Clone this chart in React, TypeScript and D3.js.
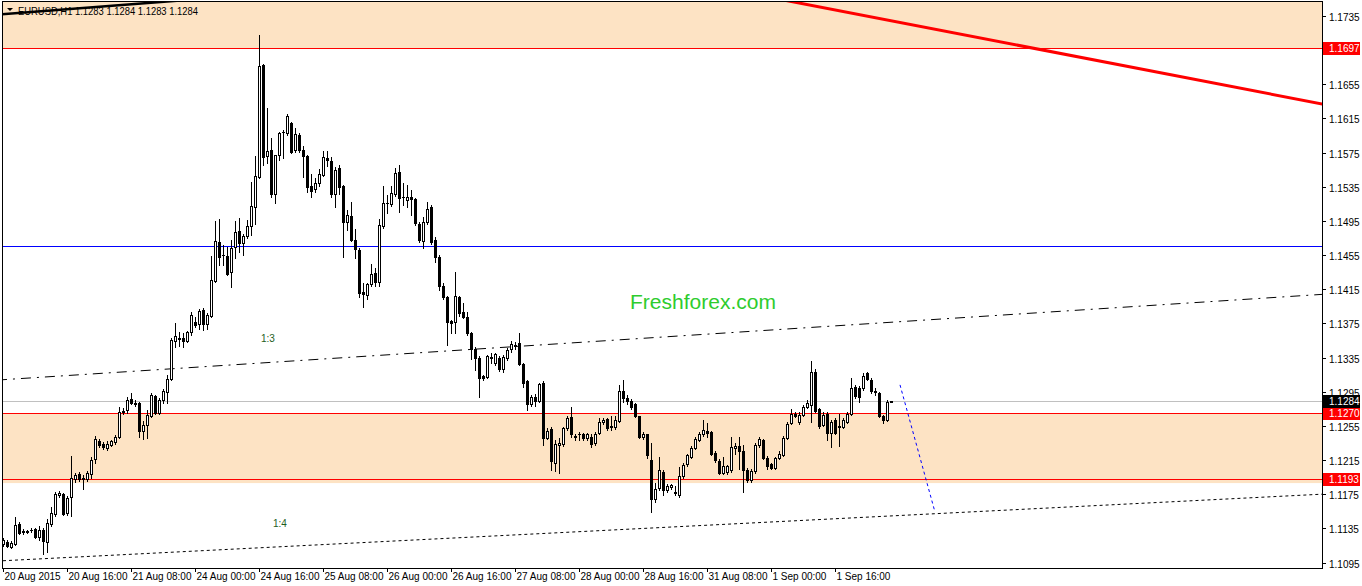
import React from "react";
import * as d3 from "d3";

// ---------- data (EURUSD H1) ----------
const opens = [
1.1117,1.1119,1.1113,1.1117,1.1140,1.1132,1.1131,1.1133,1.1134,1.1125,
1.1133,1.1119,1.1140,1.1152,1.1174,1.1175,1.1153,1.1172,1.1193,1.1199,
1.1193,1.1193,1.1199,1.1216,1.1237,1.1234,1.1229,1.1233,1.1236,1.1242,
1.1271,1.1274,1.1286,1.1282,1.1282,1.1249,1.1256,1.1266,1.1290,1.1270,
1.1285,1.1295,1.1310,1.1354,1.1358,1.1358,1.1354,1.1365,1.1377,1.1374,
1.1391,1.1374,1.1384,1.1425,1.1470,1.1455,1.1454,1.1435,1.1464,1.1483,
1.1469,1.1477,1.1489,1.1511,1.1547,1.1678,1.1571,1.1578,1.1527,1.1572,
1.1599,1.1598,1.1610,1.1578,1.1596,1.1578,1.1571,1.1536,1.1532,1.1539,
1.1549,1.1569,1.1565,1.1527,1.1557,1.1536,1.1494,1.1501,1.1473,1.1461,
1.1412,1.1408,1.1421,1.1434,1.1423,1.1489,1.1516,1.1515,1.1526,1.1552,
1.1523,1.1520,1.1523,1.1521,1.1491,1.1471,1.1494,1.1511,1.1473,1.1453,
1.1419,1.1406,1.1378,1.1377,1.1406,1.1388,1.1383,1.1364,1.1345,1.1334,
1.1313,1.1312,1.1336,1.1329,1.1334,1.1322,1.1334,1.1345,1.1350,1.1352,
1.1327,1.1308,1.1281,1.1289,1.1284,1.1305,1.1241,1.1251,1.1212,1.1233,
1.1234,1.1253,1.1265,1.1243,1.1246,1.1246,1.1241,1.1242,1.1235,1.1247,
1.1259,1.1263,1.1255,1.1254,1.1261,1.1296,1.1288,1.1284,1.1281,1.1266,
1.1242,1.1245,1.1215,1.1169,1.1182,1.1201,1.1180,1.1184,1.1178,1.1174,
1.1196,1.1210,1.1219,1.1229,1.1239,1.1246,1.1249,1.1248,1.1223,1.1214,
1.1200,1.1201,1.1203,1.1229,1.1231,1.1225,1.1203,1.1192,1.1202,1.1233,
1.1239,1.1217,1.1210,1.1206,1.1217,1.1221,1.1241,1.1258,1.1269,1.1260,
1.1268,1.1277,1.1280,1.1318,1.1275,1.1256,1.1269,1.1247,1.1262,1.1254,
1.1254,1.1260,1.1269,1.1300,1.1299,1.1299,1.1317,1.1309,1.1296,1.1294,
1.1267,1.1262,1.1283];

const highs = [
1.1124,1.1121,1.1120,1.1148,1.1142,1.1134,1.1133,1.1135,1.1135,1.1138,
1.1135,1.1146,1.1160,1.1178,1.1179,1.1176,1.1173,1.1220,1.1200,1.1201,
1.1197,1.1202,1.1219,1.1243,1.1240,1.1236,1.1237,1.1239,1.1244,1.1277,
1.1276,1.1289,1.1293,1.1285,1.1283,1.1261,1.1274,1.1293,1.1291,1.1288,
1.1298,1.1314,1.1358,1.1375,1.1365,1.1364,1.1366,1.1388,1.1383,1.1392,
1.1393,1.1387,1.1454,1.1495,1.1497,1.1467,1.1464,1.1473,1.1495,1.1498,
1.1480,1.1496,1.1541,1.1571,1.1713,1.1679,1.1627,1.1592,1.1572,1.1599,
1.1601,1.1620,1.1611,1.1604,1.1598,1.1583,1.1572,1.1550,1.1545,1.1556,
1.1577,1.1577,1.1570,1.1558,1.1560,1.1537,1.1508,1.1517,1.1486,1.1463,
1.1422,1.1422,1.1445,1.1440,1.1497,1.1536,1.1525,1.1536,1.1557,1.1560,
1.1539,1.1537,1.1531,1.1522,1.1494,1.1500,1.1517,1.1514,1.1476,1.1455,
1.1422,1.1407,1.1379,1.1435,1.1407,1.1399,1.1388,1.1365,1.1347,1.1337,
1.1315,1.1338,1.1340,1.1340,1.1337,1.1338,1.1346,1.1354,1.1353,1.1364,
1.1329,1.1309,1.1291,1.1292,1.1305,1.1307,1.1253,1.1254,1.1239,1.1241,
1.1254,1.1266,1.1277,1.1246,1.1248,1.1247,1.1247,1.1245,1.1248,1.1264,
1.1264,1.1264,1.1267,1.1267,1.1303,1.1309,1.1291,1.1287,1.1282,1.1267,
1.1248,1.1246,1.1235,1.1188,1.1218,1.1203,1.1187,1.1187,1.1185,1.1207,
1.1212,1.1222,1.1231,1.1242,1.1248,1.1262,1.1258,1.1249,1.1225,1.1216,
1.1218,1.1209,1.1242,1.1235,1.1242,1.1233,1.1206,1.1204,1.1235,1.1242,
1.1240,1.1220,1.1212,1.1218,1.1225,1.1243,1.1260,1.1275,1.1271,1.1271,
1.1280,1.1285,1.1331,1.1322,1.1276,1.1271,1.1271,1.1262,1.1264,1.1269,
1.1264,1.1271,1.1311,1.1303,1.1302,1.1317,1.1318,1.1311,1.1299,1.1295,
1.1268,1.1285,1.1284];

const lows = [
1.1114,1.1113,1.1112,1.1116,1.1128,1.1128,1.1130,1.1131,1.1124,1.1121,
1.1105,1.1107,1.1138,1.1149,1.1172,1.1151,1.1151,1.1149,1.1189,1.1190,
1.1181,1.1190,1.1194,1.1212,1.1230,1.1228,1.1227,1.1232,1.1234,1.1241,
1.1269,1.1270,1.1281,1.1278,1.1242,1.1240,1.1241,1.1265,1.1269,1.1269,
1.1282,1.1282,1.1309,1.1347,1.1349,1.1347,1.1353,1.1361,1.1371,1.1368,
1.1367,1.1368,1.1383,1.1423,1.1443,1.1443,1.1432,1.1418,1.1452,1.1459,
1.1455,1.1475,1.1479,1.1491,1.1545,1.1560,1.1563,1.1523,1.1516,1.1566,
1.1569,1.1596,1.1574,1.1576,1.1576,1.1546,1.1529,1.1523,1.1529,1.1536,
1.1548,1.1559,1.1523,1.1511,1.1526,1.1453,1.1484,1.1471,1.1452,1.1406,
1.1394,1.1404,1.1419,1.1419,1.1419,1.1487,1.1504,1.1512,1.1524,1.1505,
1.1514,1.1511,1.1502,1.1490,1.1470,1.1463,1.1491,1.1468,1.1447,1.1414,
1.1404,1.1350,1.1364,1.1364,1.1384,1.1381,1.1361,1.1333,1.1320,1.1289,
1.1309,1.1311,1.1329,1.1326,1.1319,1.1318,1.1332,1.1342,1.1345,1.1326,
1.1301,1.1274,1.1278,1.1278,1.1283,1.1233,1.1240,1.1203,1.1202,1.1200,
1.1231,1.1250,1.1242,1.1239,1.1239,1.1239,1.1239,1.1230,1.1233,1.1246,
1.1257,1.1250,1.1250,1.1251,1.1260,1.1283,1.1281,1.1275,1.1265,1.1241,
1.1240,1.1217,1.1154,1.1166,1.1180,1.1174,1.1177,1.1181,1.1174,1.1172,
1.1194,1.1208,1.1217,1.1228,1.1237,1.1243,1.1242,1.1221,1.1213,1.1199,
1.1199,1.1199,1.1201,1.1222,1.1205,1.1178,1.1189,1.1189,1.1200,1.1230,
1.1216,1.1205,1.1204,1.1205,1.1216,1.1220,1.1240,1.1257,1.1265,1.1257,
1.1267,1.1276,1.1260,1.1271,1.1253,1.1255,1.1239,1.1230,1.1245,1.1231,
1.1253,1.1258,1.1268,1.1288,1.1283,1.1297,1.1309,1.1294,1.1291,1.1265,
1.1258,1.1261,1.1283];

const closes = [
1.1121,1.1114,1.1118,1.1139,1.1130,1.1131,1.1132,1.1133,1.1125,1.1133,
1.1120,1.1141,1.1153,1.1175,1.1176,1.1152,1.1171,1.1194,1.1197,1.1193,
1.1194,1.1200,1.1215,1.1240,1.1233,1.1230,1.1234,1.1237,1.1242,1.1271,
1.1273,1.1285,1.1282,1.1281,1.1249,1.1256,1.1268,1.1291,1.1270,1.1285,
1.1296,1.1310,1.1356,1.1360,1.1357,1.1354,1.1365,1.1385,1.1373,1.1390,
1.1374,1.1385,1.1426,1.1471,1.1453,1.1455,1.1433,1.1463,1.1482,1.1469,
1.1477,1.1489,1.1512,1.1548,1.1676,1.1570,1.1577,1.1526,1.1572,1.1598,
1.1599,1.1618,1.1576,1.1597,1.1578,1.1571,1.1535,1.1530,1.1539,1.1550,
1.1570,1.1566,1.1526,1.1555,1.1535,1.1494,1.1502,1.1473,1.1462,1.1411,
1.1409,1.1421,1.1433,1.1423,1.1490,1.1516,1.1516,1.1528,1.1551,1.1522,
1.1523,1.1523,1.1521,1.1493,1.1473,1.1494,1.1509,1.1470,1.1453,1.1419,
1.1406,1.1377,1.1376,1.1407,1.1387,1.1383,1.1364,1.1345,1.1334,1.1311,
1.1311,1.1337,1.1334,1.1339,1.1322,1.1336,1.1344,1.1351,1.1349,1.1327,
1.1305,1.1281,1.1289,1.1284,1.1304,1.1241,1.1249,1.1214,1.1234,1.1235,
1.1253,1.1264,1.1245,1.1242,1.1246,1.1241,1.1245,1.1234,1.1246,1.1260,
1.1262,1.1253,1.1254,1.1262,1.1296,1.1288,1.1284,1.1277,1.1266,1.1242,
1.1246,1.1221,1.1169,1.1181,1.1203,1.1180,1.1185,1.1186,1.1176,1.1196,
1.1209,1.1221,1.1229,1.1240,1.1246,1.1250,1.1247,1.1222,1.1215,1.1200,
1.1208,1.1208,1.1230,1.1231,1.1225,1.1203,1.1192,1.1202,1.1233,1.1240,
1.1217,1.1208,1.1206,1.1217,1.1222,1.1241,1.1257,1.1269,1.1267,1.1268,
1.1277,1.1282,1.1318,1.1272,1.1255,1.1268,1.1247,1.1260,1.1247,1.1255,
1.1262,1.1269,1.1299,1.1290,1.1289,1.1313,1.1310,1.1296,1.1295,1.1266,
1.1262,1.1283,1.1284];

const timeTickBars = [0, 16, 32, 48, 64, 80, 96, 112, 128, 144, 160, 176, 192, 208];
const timeTickLabels = [
  "20 Aug 2015", "20 Aug 16:00", "21 Aug 08:00", "24 Aug 00:00", "24 Aug 16:00",
  "25 Aug 08:00", "26 Aug 00:00", "26 Aug 16:00", "27 Aug 08:00", "28 Aug 00:00",
  "28 Aug 16:00", "31 Aug 08:00", "1 Sep 00:00", "1 Sep 16:00",
];
const priceTicks = [
  1.1095, 1.1135, 1.1175, 1.1215, 1.1255, 1.1295, 1.1335, 1.1375, 1.1415,
  1.1455, 1.1495, 1.1535, 1.1575, 1.1615, 1.1655, 1.1695, 1.1735,
];

const zones = [
  [1.1697, 1.1800],
  [1.1188, 1.1270],
];
const redLevels = [1.1697, 1.1270, 1.1193];
const blueLevel = 1.1466;
const lastPrice = 1.1284;

// trend lines: [bar, price] pairs
const redTrend = [[199.25, 1.1750], [329.75, 1.1632]];
const blackTrend = [[-0.75, 1.1737], [35.5, 1.1750]];
const dashDotTrend = [[-0.25, 1.1309], [329.75, 1.1409]];
const dottedTrend = [[-0.25, 1.1097], [329.75, 1.1175]];
const blueProjection = [[224.25, 1.1303], [233, 1.1154]];

const ratioLabels = [
  { text: "1:3", bar: 64.5, price: 1.1358 },
  { text: "1:4", bar: 67.5, price: 1.1141 },
];

const header = "EURUSD,H1  1.1283 1.1284 1.1283 1.1284";

// ---------- layout ----------
const W = 1362;
const H = 586;
const P = { left: 2, top: 1, right: 1322, bottom: 568 };
const FONT = "'Liberation Sans', Arial, sans-serif";

export default function App() {
  const x = d3.scaleLinear().domain([0, 330]).range([3, 1323]);
  const y = d3.scaleLinear().domain([1.1095, 1.1735]).range([562.5, 16]);
  const r = (v: number) => Math.round(v);

  const extend = (pts: number[][]) => {
    const [a, b] = pts;
    const slope = (b[1] - a[1]) / (b[0] - a[0]);
    const b0 = x.invert(P.left - 5);
    const b1 = x.invert(P.right + 5);
    return [
      [x(b0), y(a[1] + slope * (b0 - a[0]))],
      [x(b1), y(a[1] + slope * (b1 - a[0]))],
    ];
  };
  const seg = (pts: number[][]) => pts.map(([b, p]) => [x(b), y(p)]);
  const lineGen = d3.line();

  const candles = opens.map((o, i) => {
    const c = closes[i];
    const X = r(x(i));
    const yo = r(y(o));
    const yc = r(y(c));
    const yh = r(y(Math.max(highs[i], o, c)));
    const yl = r(y(Math.min(lows[i], o, c)));
    const top = Math.min(yo, yc);
    const bot = Math.max(yo, yc);
    const bull = c > o;
    return (
      <g key={i}>
        <rect x={X} y={yh} width={1} height={yl - yh + 1} fill="#000" />
        <rect x={X - 1} y={top} width={3} height={bot - top + 1} fill="#000" />
        {bull && bot - top >= 2 ? (
          <rect x={X} y={top + 1} width={1} height={bot - top - 1} fill="#fff" />
        ) : null}
      </g>
    );
  });

  const hline = (p: number) => r(y(p)) + 0.5;

  return (
    <svg
      width={W}
      height={H}
      style={{ position: "fixed", left: 0, top: 0, background: "#fff" }}
      fontFamily={FONT}
    >
      <defs>
        <clipPath id="plotClip">
          <rect x={P.left} y={P.top} width={P.right - P.left} height={P.bottom - P.top} />
        </clipPath>
      </defs>
      <rect x={0} y={0} width={W} height={H} fill="#fff" />

      <g clipPath="url(#plotClip)">
        {zones.map(([lo, hi], k) => (
          <rect
            key={k}
            x={P.left}
            y={y(hi)}
            width={P.right - P.left}
            height={y(lo) - y(hi)}
            fill="#FDE3C4"
          />
        ))}
        <line x1={P.left} x2={P.right} y1={hline(lastPrice)} y2={hline(lastPrice)} stroke="#C0C0C0" strokeWidth={1} />
        <line x1={P.left} x2={P.right} y1={hline(blueLevel)} y2={hline(blueLevel)} stroke="#0000FF" strokeWidth={1} />
        {redLevels.map((p, k) => (
          <line key={k} x1={P.left} x2={P.right} y1={hline(p)} y2={hline(p)} stroke="#FF0000" strokeWidth={1} />
        ))}
        <path d={lineGen(extend(dashDotTrend) as any) || ""} stroke="#000" strokeWidth={1} fill="none" strokeDasharray="10,6,2,6" />
        <path d={lineGen(extend(dottedTrend) as any) || ""} stroke="#000" strokeWidth={1} fill="none" strokeDasharray="3,3" />
        <path d={lineGen(extend(redTrend) as any) || ""} stroke="#FF0000" strokeWidth={3} fill="none" />
        <path d={lineGen(extend(blackTrend) as any) || ""} stroke="#000" strokeWidth={2.5} fill="none" />
        <path d={lineGen(seg(blueProjection) as any) || ""} stroke="#0000FF" strokeWidth={1} fill="none" strokeDasharray="3,3" />

        {candles}

        {ratioLabels.map((l, k) => (
          <text key={k} x={x(l.bar)} y={y(l.price) + 4} fontSize={10} fill="#1E5E1E">
            {l.text}
          </text>
        ))}
        <text x={630} y={309} fontSize={20} fill="#2ECC2E" textLength={146} lengthAdjust="spacingAndGlyphs">
          Freshforex.com
        </text>
      </g>

      {/* header */}
      <path d="M7,8 L13,8 L10,11 Z" fill="#000" />
      <text x={18} y={15} fontSize={11} fill="#000" textLength={180} lengthAdjust="spacingAndGlyphs">
        {header}
      </text>

      {/* frame */}
      <rect x={P.left + 0.5} y={P.top + 0.5} width={P.right - P.left} height={P.bottom - P.top} fill="none" stroke="#000" strokeWidth={1} />

      {/* price axis */}
      {priceTicks.map((p, k) => {
        const yy = r(y(p)) + 0.5;
        return (
          <g key={k}>
            <line x1={P.right} x2={P.right + 4} y1={yy} y2={yy} stroke="#000" />
            <text x={1329} y={yy + 4} fontSize={10} fill="#000">
              {p.toFixed(4)}
            </text>
          </g>
        );
      })}
      {redLevels.map((p, k) => {
        const yy = r(y(p));
        return (
          <g key={k}>
            <rect x={P.right + 1} y={yy - 6} width={W - P.right - 3} height={13} fill="#FF0000" />
            <text x={1329} y={yy + 4} fontSize={10} fill="#fff">
              {p.toFixed(4)}
            </text>
          </g>
        );
      })}
      <rect x={P.right + 1} y={r(y(lastPrice)) - 6} width={W - P.right - 3} height={13} fill="#000" />
      <text x={1329} y={r(y(lastPrice)) + 4} fontSize={10} fill="#fff">
        {lastPrice.toFixed(4)}
      </text>

      {/* time axis */}
      {timeTickBars.map((b, k) => {
        const xx = r(x(b)) + 0.5;
        return (
          <g key={k}>
            <line x1={xx} x2={xx} y1={P.bottom} y2={P.bottom + 4} stroke="#000" />
            <text x={xx + 1} y={580} fontSize={10} fill="#000">
              {timeTickLabels[k]}
            </text>
          </g>
        );
      })}
    </svg>
  );
}
